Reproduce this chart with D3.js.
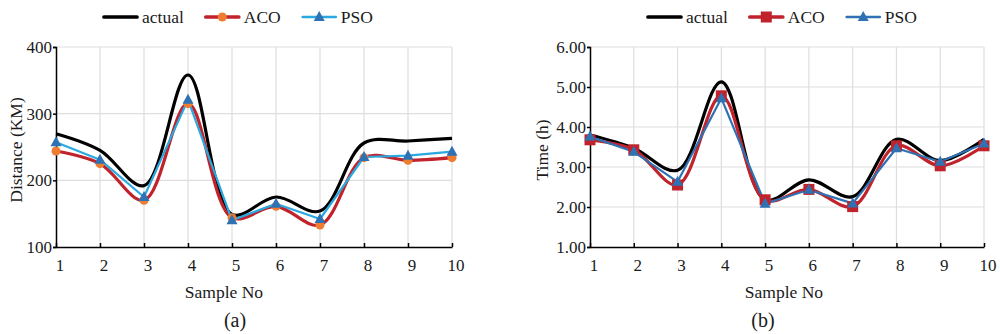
<!DOCTYPE html>
<html>
<head>
<meta charset="utf-8">
<script src="https://cdn.jsdelivr.net/npm/d3@7"></script>
<style>
  body { margin: 0; background: #fff; }
  svg { display: block; font-family: "Liberation Serif", "Times New Roman", serif; }
</style>
</head>
<body>
<script>
// Sample numbers (x axis)
const samples = [1, 2, 3, 4, 5, 6, 7, 8, 9, 10];

// Panel (a): distance in KM
const distActual = [270, 245, 192, 358, 149, 175, 154, 256, 259, 263];
const distACO = [244, 225, 170, 315, 144, 161, 133, 234, 230, 234];
const distPSO = [257, 231, 175, 321, 140, 165, 142, 235, 237, 243];
const distTicks = [100, 200, 300, 400];

// Panel (b): time in hours
const timeActual = [3.8, 3.47, 2.92, 5.13, 2.18, 2.68, 2.26, 3.69, 3.16, 3.69];
const timeACO = [3.68, 3.43, 2.55, 4.78, 2.18, 2.44, 2.01, 3.53, 3.03, 3.53];
const timePSO = [3.76, 3.38, 2.63, 4.72, 2.08, 2.43, 2.09, 3.47, 3.13, 3.59];
const timeTicks = [1, 2, 3, 4, 5, 6];

const seriesNames = ["actual", "ACO", "PSO"];

const svg = d3
  .select("body")
  .append("svg")
  .attr("width", 1000)
  .attr("height", 334);

// Draw one panel
const drawPanel = (cfg) => {
  const { left, right, top, bottom, ticks, fmt, yTitle, yTitleX, label, series, legendX, labelX, titleX } = cfg;

  const x = d3.scaleLinear().domain([1, 10]).range([left, right]);
  const y = d3.scaleLinear().domain(d3.extent(ticks)).range([bottom, top]);

  const g = svg.append("g");

  // Grid
  g.append("g")
    .selectAll("line.vg")
    .data(samples.slice(1))
    .join("line")
    .attr("x1", (d) => x(d))
    .attr("x2", (d) => x(d))
    .attr("y1", top)
    .attr("y2", bottom)
    .attr("stroke", "#dedede")
    .attr("stroke-width", 1.2);

  g.append("g")
    .selectAll("line.hg")
    .data(ticks.slice(1))
    .join("line")
    .attr("x1", left)
    .attr("x2", right)
    .attr("y1", (d) => y(d))
    .attr("y2", (d) => y(d))
    .attr("stroke", "#dedede")
    .attr("stroke-width", 1.2);

  // Y axis
  const yAxis = g
    .append("g")
    .attr("transform", `translate(${left},0)`)
    .call(d3.axisLeft(y).tickValues(ticks).tickFormat(fmt).tickSize(3).tickPadding(1));
  yAxis.select(".domain").attr("stroke", "#000").attr("stroke-width", 1.5);
  yAxis.selectAll(".tick line").attr("stroke", "#000").attr("stroke-width", 1.5);
  yAxis.selectAll(".tick text")
    .attr("font-family", "Liberation Serif")
    .style("font-size", "17px")
    .attr("fill", "#1a1a1a");

  // X axis (ticks pointing up)
  const xAxis = g
    .append("g")
    .attr("transform", `translate(0,${bottom})`)
    .call(d3.axisBottom(x).tickValues(samples).tickFormat(d3.format("d")).tickSizeInner(-4).tickSizeOuter(0).tickPadding(12));
  xAxis.select(".domain").attr("stroke", "#000").attr("stroke-width", 1.5);
  xAxis.selectAll(".tick line").attr("stroke", "#000").attr("stroke-width", 1.5);
  xAxis.selectAll(".tick text")
    .attr("font-family", "Liberation Serif")
    .style("font-size", "17px")
    .attr("fill", "#1a1a1a")
    .attr("dx", "0.2em");

  // Axis titles
  g.append("text")
    .attr("transform", `translate(${yTitleX},${(top + bottom) / 2 + 3}) rotate(-90)`)
    .attr("text-anchor", "middle")
    .style("font-size", "17.5px")
    .attr("fill", "#1a1a1a")
    .text(yTitle);

  g.append("text")
    .attr("x", titleX)
    .attr("y", 298)
    .attr("text-anchor", "middle")
    .style("font-size", "17.5px")
    .attr("fill", "#1a1a1a")
    .text("Sample No");

  g.append("text")
    .attr("x", labelX)
    .attr("y", 327)
    .attr("text-anchor", "middle")
    .style("font-size", "20px")
    .attr("fill", "#1a1a1a")
    .text(label);

  // Lines
  series.forEach((s) => {
    const line = d3
      .line()
      .x((d, i) => x(samples[i]))
      .y((d) => y(d))
      .curve(s.smooth ? d3.curveCatmullRom.alpha(0.5) : d3.curveLinear);
    g.append("path")
      .datum(s.values)
      .attr("fill", "none")
      .attr("stroke", s.color)
      .attr("stroke-width", s.width)
      .attr("stroke-linejoin", "round")
      .attr("d", line);
  });

  // Markers
  const drawMarker = (sel, s, cx, cy) => {
    if (s.marker === "circle") {
      sel.append("circle").attr("cx", cx).attr("cy", cy).attr("r", 4.5).attr("fill", s.markerColor);
    } else if (s.marker === "square") {
      sel.append("rect")
        .attr("x", cx - 5.5).attr("y", cy - 5.5)
        .attr("width", 11).attr("height", 11)
        .attr("fill", s.markerColor);
    } else if (s.marker === "triangle") {
      sel.append("path")
        .attr("d", `M${cx},${cy - 6}L${cx + 5.5},${cy + 4}L${cx - 5.5},${cy + 4}Z`)
        .attr("fill", s.markerColor);
    }
  };

  series.forEach((s) => {
    if (!s.marker) return;
    const mg = g.append("g");
    s.values.forEach((v, i) => drawMarker(mg, s, x(samples[i]), y(v)));
  });

  // Legend
  const lg = g.append("g");
  let lx = legendX;
  series.forEach((s, i) => {
    lg.append("line")
      .attr("x1", lx).attr("x2", lx + 33)
      .attr("y1", 17).attr("y2", 17)
      .attr("stroke", s.color)
      .attr("stroke-width", s.width + 0.5)
      .attr("stroke-linecap", "round");
    if (s.marker) drawMarker(lg, s, lx + 16.5, 17);
    const t = lg.append("text")
      .attr("x", lx + 38)
      .attr("y", 23)
      .style("font-size", "17.5px")
      .attr("fill", "#1a1a1a")
      .text(seriesNames[i]);
    lx += 38 + t.node().getComputedTextLength() + 22;
  });
};

drawPanel({
  left: 56, right: 452, top: 47, bottom: 247,
  ticks: distTicks,
  fmt: d3.format("d"),
  yTitle: "Distance (KM)",
  yTitleX: 22,
  label: "(a)",
  labelX: 235,
  titleX: 224,
  legendX: 104,
  series: [
    { values: distActual, color: "#000", width: 3.2, smooth: true },
    { values: distACO, color: "#c0232b", width: 3.2, smooth: true, marker: "circle", markerColor: "#ee7d32" },
    { values: distPSO, color: "#2aa9e0", width: 2.2, smooth: false, marker: "triangle", markerColor: "#2e72b4" },
  ],
});

drawPanel({
  left: 590, right: 984, top: 47, bottom: 247,
  ticks: timeTicks,
  fmt: d3.format(".2f"),
  yTitle: "Time (h)",
  yTitleX: 548,
  label: "(b)",
  labelX: 763,
  titleX: 784,
  legendX: 648,
  series: [
    { values: timeActual, color: "#000", width: 3.2, smooth: true },
    { values: timeACO, color: "#c0232b", width: 3.2, smooth: true, marker: "square", markerColor: "#c0232b" },
    { values: timePSO, color: "#2e72b4", width: 2.2, smooth: false, marker: "triangle", markerColor: "#2e72b4" },
  ],
});
</script>
</body>
</html>
